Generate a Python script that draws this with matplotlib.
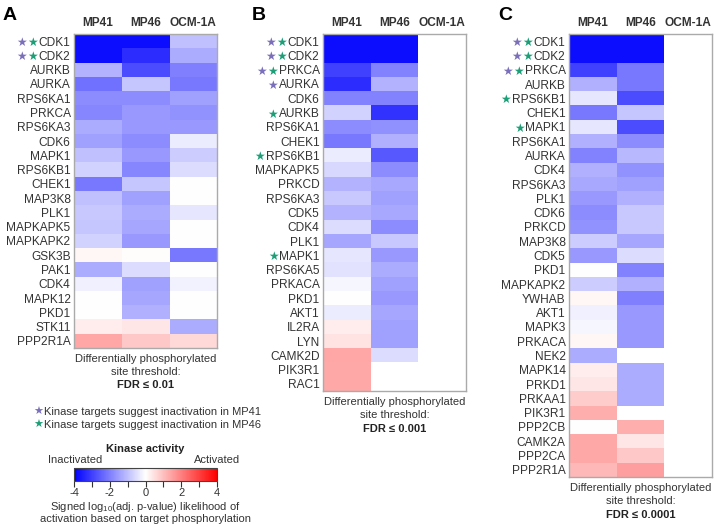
import numpy as np
import matplotlib
matplotlib.use("Agg")
import matplotlib.pyplot as plt
from matplotlib.colors import Normalize
import matplotlib.cm as cm

plt.rcParams['font.family'] = ['Liberation Sans', 'DejaVu Sans']
plt.rcParams['mathtext.fontset'] = 'custom'
plt.rcParams['mathtext.rm'] = 'Liberation Sans'
plt.rcParams['axes.unicode_minus'] = False

columns = ["MP41", "MP46", "OCM-1A"]
NA = np.nan

# ---------------- Panel A (FDR <= 0.01) ----------------
kin_a = ["CDK1", "CDK2", "AURKB", "AURKA", "RPS6KA1", "PRKCA", "RPS6KA3", "CDK6",
         "MAPK1", "RPS6KB1", "CHEK1", "MAP3K8", "PLK1", "MAPKAPK5", "MAPKAPK2",
         "GSK3B", "PAK1", "CDK4", "MAPK12", "PKD1", "STK11", "PPP2R1A"]
mp41_a = [-3.8, -3.8, -1.2, -2.2, -1.8, -1.9, -1.3, -1.5, -1.0, -0.7, -2.1, -1.0, -0.85,
          -0.9, -0.7, 0.15, -1.3, -0.25, 0.0, 0.0, 0.3, 1.4]
mp46_a = [-3.8, -3.3, -2.8, -0.9, -1.8, -1.6, -1.6, -1.8, -1.6, -1.9, -0.9, -1.5, -1.3,
          -1.4, -1.6, 0.05, -0.55, -1.5, -1.4, -1.25, 0.4, 0.85]
ocm_a = [-1.0, -1.3, -2.0, -2.1, -1.5, -1.7, -1.6, -0.3, -0.8, -0.55, 0.0, 0.0, -0.4,
         0.0, 0.0, -2.1, 0.0, -0.2, 0.0, 0.0, -1.3, 0.6]
stars_a = {"CDK1": (True, True), "CDK2": (True, True)}

# ---------------- Panel B (FDR <= 0.001) ----------------
kin_b = ["CDK1", "CDK2", "PRKCA", "AURKA", "CDK6", "AURKB", "RPS6KA1", "CHEK1",
         "RPS6KB1", "MAPKAPK5", "PRKCD", "RPS6KA3", "CDK5", "CDK4", "PLK1", "MAPK1",
         "RPS6KA5", "PRKACA", "PKD1", "AKT1", "IL2RA", "LYN", "CAMK2D", "PIK3R1", "RAC1"]
mp41_b = [-3.8, -3.8, -3.0, -3.3, -1.95, -0.7, -1.8, -2.1, -0.3, -0.6, -1.2, -0.85, -1.2,
          -0.55, -1.4, -0.4, -0.45, -0.15, 0.0, -0.3, 0.3, 0.45, 1.4, 1.35, 1.35]
mp46_b = [-3.8, -3.8, -1.95, -1.2, -1.95, -3.2, -1.75, -1.25, -2.6, -1.8, -1.35, -1.5,
          -1.35, -1.8, -0.85, -1.6, -1.3, -1.5, -1.6, -1.4, -1.5, -1.5, -0.55, NA, NA]
ocm_b = [NA] * len(kin_b)
stars_b = {"CDK1": (True, True), "CDK2": (True, True), "PRKCA": (True, True),
           "AURKA": (True, False), "AURKB": (False, True), "RPS6KB1": (False, True),
           "MAPK1": (False, True)}

# ---------------- Panel C (FDR <= 0.0001) ----------------
kin_c = ["CDK1", "CDK2", "PRKCA", "AURKB", "RPS6KB1", "CHEK1", "MAPK1", "RPS6KA1",
         "AURKA", "CDK4", "RPS6KA3", "PLK1", "CDK6", "PRKCD", "MAP3K8", "CDK5", "PKD1",
         "MAPKAPK2", "YWHAB", "AKT1", "MAPK3", "PRKACA", "NEK2", "MAPK14", "PRKD1",
         "PRKAA1", "PIK3R1", "PPP2CB", "CAMK2A", "PPP2CA", "PPP2R1A"]
mp41_c = [-3.8, -3.8, -3.0, -1.25, -0.4, -2.1, -0.4, -1.25, -1.95, -1.25, -1.35, -1.6,
          -1.8, -1.7, -0.8, -1.6, 0.0, -0.8, 0.15, -0.25, -0.15, 0.15, -1.3, 0.3, 0.4,
          0.8, 1.25, 0.0, 1.35, 1.35, 1.1]
mp46_c = [-3.8, -3.8, -2.1, -2.1, -2.8, -0.9, -2.8, -1.8, -1.1, -1.7, -1.5, -1.25,
          -0.85, -0.85, -1.4, -0.55, -1.95, -1.25, -2.0, -1.6, -1.6, -1.6, NA, -1.3,
          -1.3, -1.3, NA, 1.25, 0.4, 0.85, 1.5]
ocm_c = [NA] * len(kin_c)
stars_c = {"CDK1": (True, True), "CDK2": (True, True), "PRKCA": (True, True),
           "RPS6KB1": (False, True), "MAPK1": (False, True)}

W, H = 714, 527
fig = plt.figure(figsize=(W / 100, H / 100), dpi=100)

cmap = matplotlib.colormaps['bwr'].copy()
cmap.set_bad('white')
norm = Normalize(-4, 4)

PURPLE = '#7a6fba'
GREEN = '#1c9e77'
TXT = '#333333'
FS = 8.6
FS2 = 8.0


def px_axes(x0, y0, x1, y1):
    return fig.add_axes([x0 / W, 1 - y1 / H, (x1 - x0) / W, (y1 - y0) / H])


def heat(rect, kin, a, b, c, stars, letter, fdr):
    x0, y0, x1, y1 = rect
    ax = px_axes(x0, y0, x1, y1)
    data = np.array([a, b, c], dtype=float).T
    ax.imshow(np.ma.masked_invalid(data), cmap=cmap, norm=norm, aspect='auto',
              interpolation='nearest')
    ax.set_xticks(range(3))
    ax.set_xticklabels(columns, fontweight='bold', fontsize=FS, color=TXT)
    ax.xaxis.tick_top()
    ax.set_yticks(range(len(kin)))
    ax.set_yticklabels(kin, fontsize=FS, color=TXT)
    ax.tick_params(length=0, pad=2.5)
    ax.tick_params(axis='x', pad=3.5)
    for s in ax.spines.values():
        s.set_color('#aaaaaa')
        s.set_linewidth(1.0)
    for lab in ax.get_yticklabels():
        name = lab.get_text()
        if name in stars:
            p, g = stars[name]
            ref = lab
            if g:
                ref = ax.annotate('\u2605', xy=(0, 0.5), xycoords=ref, ha='right',
                                  va='center', color=GREEN, fontsize=FS,
                                  family='DejaVu Sans', annotation_clip=False,
                                  xytext=(-0.5, 0), textcoords='offset points')
            if p:
                ax.annotate('\u2605', xy=(0, 0.5), xycoords=ref, ha='right',
                            va='center', color=PURPLE, fontsize=FS,
                            family='DejaVu Sans', annotation_clip=False,
                            xytext=(-0.5, 0), textcoords='offset points')
    fig.text((x0 - 71) / W, 1 - 16 / H, letter, fontsize=14, fontweight='bold',
             ha='left', va='center')
    cx = (x0 + x1) / 2 / W
    fig.text(cx, 1 - (y1 + 11) / H, "Differentially phosphorylated", ha='center',
             va='center', fontsize=FS2, color=TXT)
    fig.text(cx, 1 - (y1 + 24) / H, "site threshold:", ha='center', va='center',
             fontsize=FS2, color=TXT)
    fig.text(cx, 1 - (y1 + 37.5) / H, fdr, ha='center', va='center',
             fontsize=FS2, color='#222222', fontweight='bold')
    return ax


heat((74, 34, 217, 348), kin_a, mp41_a, mp46_a, ocm_a, stars_a, 'A', 'FDR \u2264 0.01')
heat((323, 34, 466, 391), kin_b, mp41_b, mp46_b, ocm_b, stars_b, 'B', 'FDR \u2264 0.001')
heat((569, 34, 712, 477), kin_c, mp41_c, mp46_c, ocm_c, stars_c, 'C', 'FDR \u2264 0.0001')

# Legend for stars
for yy, col, txt in [(412, PURPLE, "Kinase targets suggest inactivation in MP41"),
                     (425, GREEN, "Kinase targets suggest inactivation in MP46")]:
    fig.text(33 / W, 1 - yy / H, '\u2605', color=col, fontsize=FS2, family='DejaVu Sans',
             ha='left', va='center')
    fig.text(44 / W, 1 - yy / H, txt, color=TXT, fontsize=FS2, ha='left', va='center')

# Colorbar
cax = px_axes(74, 468, 217, 481)
sm = cm.ScalarMappable(norm=norm, cmap=matplotlib.colormaps['bwr'])
cb = fig.colorbar(sm, cax=cax, orientation='horizontal')
cb.set_ticks([-4, -2, 0, 2, 4])
cb.ax.set_xticks([-3, -1, 1, 3], minor=True)
cb.ax.tick_params(which='both', length=4, width=0.8, labelsize=FS2, colors=TXT, pad=0.8)
cb.outline.set_linewidth(0.8)
cb.outline.set_edgecolor('#444444')
fig.text(145.5 / W, 1 - 449 / H, "Kinase activity", fontweight='bold', fontsize=FS2,
         ha='center', va='center', color='#222222')
fig.text(48 / W, 1 - 460 / H, "Inactivated", fontsize=FS2, ha='left', va='center', color=TXT)
fig.text(240 / W, 1 - 460 / H, "Activated", fontsize=FS2, ha='right', va='center', color=TXT)
fig.text(145.5 / W, 1 - 507 / H, r"Signed log$_{\mathrm{10}}$(adj. p-value) likelihood of",
         fontsize=FS2, ha='center', va='center', color=TXT)
fig.text(145.5 / W, 1 - 519.5 / H, "activation based on target phosphorylation",
         fontsize=FS2, ha='center', va='center', color=TXT)

fig.savefig("out.png", dpi=100)
